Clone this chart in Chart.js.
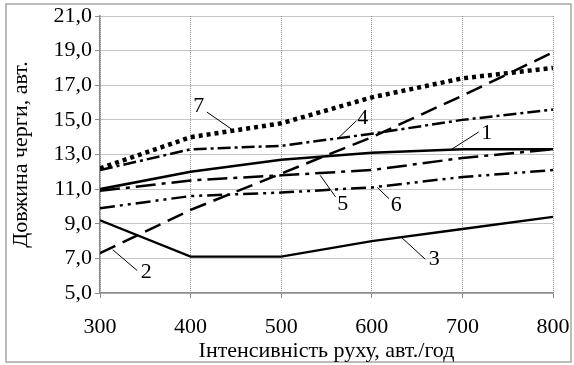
<!DOCTYPE html>
<html>
<head>
<meta charset="utf-8">
<script src="https://cdn.jsdelivr.net/npm/chart.js@4.4.0/dist/chart.umd.min.js"></script>
<style>
    html, body { margin: 0; padding: 0; background: #fff; }
    #wrap { width: 574px; height: 365px; }
</style>
</head>
<body>
<div id="wrap"><canvas id="chart" width="574" height="365"></canvas></div>
<script>
// Queue length vs traffic intensity
const intensity = [300, 400, 500, 600, 700, 800];

const series1 = [11.0, 12.0, 12.7, 13.1, 13.3, 13.3];
const series2 = [7.3, 9.8, 11.9, 14.0, 16.4, 18.9];
const series3 = [9.2, 7.1, 7.1, 8.0, 8.7, 9.4];
const series4 = [12.1, 13.3, 13.5, 14.2, 15.0, 15.6];
const series5 = [10.9, 11.5, 11.8, 12.1, 12.8, 13.3];
const series6 = [9.9, 10.6, 10.8, 11.1, 11.7, 12.1];
const series7 = [12.2, 14.0, 14.8, 16.3, 17.4, 18.0];

const yTicks = [5, 7, 9, 11, 13, 15, 17, 19, 21];
const xTitle = 'Інтенсивність руху, авт./год';
const yTitle = 'Довжина черги, авт.';

// curve labels: text position and leader line (data units)
const curveLabels = [
    { text: '7', at: [409, 15.8], from: [418, 15.45], to: [447, 14.4] },
    { text: '4', at: [590, 15.1], from: [583, 14.95], to: [562, 13.9] },
    { text: '1', at: [727, 14.25], from: [718, 14.3], to: [688, 13.3] },
    { text: '5', at: [568, 10.1], from: [560, 10.55], to: [543, 11.8] },
    { text: '6', at: [627, 10.05], from: [619, 10.45], to: [606, 11.1] },
    { text: '3', at: [669, 6.95], from: [659, 6.95], to: [632, 8.25] },
    { text: '2', at: [351, 6.2], from: [341, 6.3], to: [314, 7.5] }
];

const FONT = 'Liberation Serif';

function toPoints(values) {
    return values.map((v, i) => ({ x: intensity[i], y: v }));
}

function makeSet(values, width, dash) {
    return {
        data: toPoints(values),
        borderColor: '#000',
        borderWidth: width,
        borderDash: dash,
        borderCapStyle: 'butt',
        pointRadius: 0,
        tension: 0,
        fill: false
    };
}

const framePlugin = {
    id: 'frame',
    beforeDraw(chart) {
        const ctx = chart.ctx;
        ctx.save();
        ctx.fillStyle = '#fff';
        ctx.fillRect(0, 0, chart.width, chart.height);
        ctx.strokeStyle = '#a6a6a6';
        ctx.lineWidth = 1.5;
        ctx.strokeRect(6, 4, 565, 358);
        ctx.restore();
    }
};

const labelPlugin = {
    id: 'curveLabels',
    afterDatasetsDraw(chart) {
        const ctx = chart.ctx;
        const xs = chart.scales.x;
        const ys = chart.scales.y;
        ctx.save();
        ctx.strokeStyle = '#000';
        ctx.lineWidth = 1;
        ctx.fillStyle = '#000';
        ctx.font = '22px "' + FONT + '"';
        ctx.textAlign = 'center';
        ctx.textBaseline = 'middle';
        curveLabels.forEach(l => {
            ctx.beginPath();
            ctx.moveTo(xs.getPixelForValue(l.from[0]), ys.getPixelForValue(l.from[1]));
            ctx.lineTo(xs.getPixelForValue(l.to[0]), ys.getPixelForValue(l.to[1]));
            ctx.stroke();
            ctx.fillText(l.text, xs.getPixelForValue(l.at[0]), ys.getPixelForValue(l.at[1]));
        });
        ctx.restore();
    }
};

new Chart(document.getElementById('chart'), {
    type: 'line',
    data: {
        datasets: [
            makeSet(series1, 2.6, []),
            makeSet(series2, 2.5, [17, 8]),
            makeSet(series3, 2.4, []),
            makeSet(series4, 2.5, [13, 4, 3, 4]),
            makeSet(series5, 2.5, [20, 6, 4, 6]),
            makeSet(series6, 2.5, [15, 5, 3, 5, 3, 5]),
            makeSet(series7, 4.5, [4, 4])
        ]
    },
    options: {
        responsive: false,
        devicePixelRatio: 1,
        animation: false,
        layout: { padding: { left: 0, top: 16, right: 21, bottom: 0 } },
        plugins: {
            legend: { display: false },
            tooltip: { enabled: false }
        },
        scales: {
            x: {
                type: 'linear',
                min: 300,
                max: 800,
                afterFit: (scale) => {
                    scale.height = 72;
                    scale.paddingLeft = 0;
                    scale.paddingRight = 0;
                },
                ticks: {
                    stepSize: 100,
                    color: '#000',
                    font: { family: FONT, size: 22 },
                    padding: 16,
                    maxRotation: 0
                },
                grid: { color: '#8c8c8c', lineWidth: 1, tickLength: 5 },
                border: { display: true, color: '#8c8c8c', width: 1.5, dash: [1, 1] },
                title: {
                    display: true,
                    text: xTitle,
                    color: '#000',
                    font: { family: FONT, size: 22 },
                    padding: { top: 0, bottom: 1 }
                }
            },
            y: {
                min: 5,
                max: 21,
                afterFit: (scale) => {
                    scale.width = 100;
                    scale.paddingTop = 0;
                    scale.paddingBottom = 0;
                },
                afterBuildTicks: (scale) => { scale.ticks = yTicks.map(v => ({ value: v })); },
                ticks: {
                    color: '#000',
                    font: { family: FONT, size: 22 },
                    padding: 3,
                    callback: (v) => Number(v).toFixed(1).replace('.', ',')
                },
                grid: { color: '#8c8c8c', lineWidth: 1, tickLength: 5 },
                border: { display: true, color: '#8c8c8c', width: 1.5, dash: [1, 1] },
                title: {
                    display: true,
                    text: yTitle,
                    color: '#000',
                    font: { family: FONT, size: 22 },
                    padding: { top: 8, bottom: 0 }
                }
            }
        }
    },
    plugins: [framePlugin, labelPlugin]
});
</script>
</body>
</html>
